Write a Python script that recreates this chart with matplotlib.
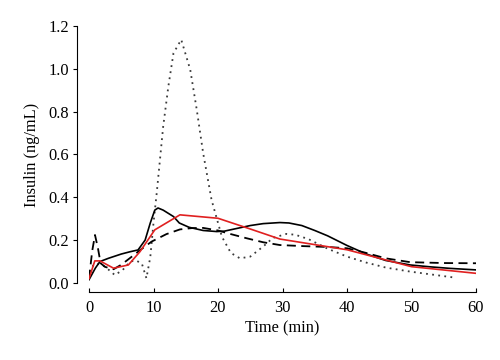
import matplotlib
matplotlib.use("Agg")
import matplotlib.pyplot as plt

# black solid
t_black = [0, 1, 1.7, 3, 3.8, 5, 6.4, 7.6, 8.7, 9.5, 10.2, 10.7, 11.5, 13.1, 14, 15.5,
           17.7, 19.8, 21, 23, 25, 27, 29.6, 31, 33, 35, 37, 40, 43, 46, 49.8, 53, 56, 60]
v_black = [0.015, 0.07, 0.10, 0.115, 0.123, 0.135, 0.146, 0.154, 0.20, 0.28, 0.34, 0.35,
           0.34, 0.31, 0.28, 0.26, 0.245, 0.24, 0.242, 0.255, 0.268, 0.277, 0.282, 0.28,
           0.268, 0.245, 0.22, 0.175, 0.135, 0.105, 0.084, 0.075, 0.068, 0.061]

# red solid
t_red = [0, 0.9, 1.7, 3.8, 6.1, 7.9, 10.2, 14.1, 20, 25, 29.6, 40, 50, 60]
v_red = [0.02, 0.103, 0.103, 0.069, 0.084, 0.146, 0.248, 0.318, 0.302, 0.252, 0.205,
         0.155, 0.076, 0.045]

# dashed
t_dash = [0, 0.5, 0.93, 1.4, 1.8, 2.5, 3.8, 5, 6.3, 8, 9.7, 12, 14.1, 15.9, 17.7, 20,
          22, 24.4, 27, 29.6, 33.2, 37, 40, 43, 46, 49.8, 55, 60]
v_dash = [0.02, 0.15, 0.224, 0.16, 0.092, 0.075, 0.064, 0.085, 0.115, 0.155, 0.193,
          0.228, 0.25, 0.256, 0.257, 0.245, 0.228, 0.209, 0.19, 0.177, 0.172, 0.168,
          0.162, 0.14, 0.115, 0.097, 0.093, 0.092]

# dotted
t_dot = [0, 0.6, 1.2, 2.5, 4, 5.2, 6.4, 7.3, 8.2, 8.9, 9.5, 10, 10.5, 11.5, 12.3, 13.1,
         14.3, 15.7, 16.7, 17.7, 19, 20.6, 22, 23.4, 25, 27, 28.5, 30.6, 32, 34, 37, 40,
         43, 46, 49.8, 53, 56.7]
v_dot = [0.022, 0.08, 0.092, 0.076, 0.037, 0.06, 0.10, 0.105, 0.09, 0.022, 0.12, 0.28,
         0.42, 0.73, 0.917, 1.073, 1.136, 0.995, 0.81, 0.606, 0.388, 0.216, 0.14, 0.115,
         0.123, 0.17, 0.21, 0.229, 0.225, 0.205, 0.16, 0.123, 0.095, 0.072, 0.053, 0.04,
         0.025]

x_ticks = [0, 10, 20, 30, 40, 50, 60]
y_ticks = [0.0, 0.2, 0.4, 0.6, 0.8, 1.0, 1.2]

plt.rcParams['font.family'] = ['Liberation Serif', 'DejaVu Serif']
plt.rcParams['font.size'] = 11.8

fig = plt.figure(figsize=(5, 3.6), dpi=100)
ax = fig.add_axes([0.178, 0.214, 0.774, 0.714])

ax.plot(t_dot, v_dot, color='#3a3a3a', lw=1.3, linestyle=(0, (1, 2.4)))
ax.plot(t_dash, v_dash, color='black', lw=1.3, linestyle=(0, (5, 3)))
ax.plot(t_black, v_black, color='black', lw=1.2)
ax.plot(t_red, v_red, color='#e02020', lw=1.2)

ax.set_xlim(0, 60)
ax.set_ylim(0, 1.2)
ax.set_xticks(x_ticks)
ax.set_yticks(y_ticks)
ax.set_yticklabels([f"{v:.1f}" for v in y_ticks])

ax.spines['top'].set_visible(False)
ax.spines['right'].set_visible(False)
ax.spines['left'].set_position(('outward', 8.6))
ax.spines['bottom'].set_position(('outward', 6.5))
ax.tick_params(axis='x', direction='in', length=3, pad=6)
ax.tick_params(axis='y', direction='out', length=3, pad=3)

ax.set_xlabel('Time (min)', labelpad=3)
ax.set_ylabel('Insulin (ng/mL)', labelpad=6)

fig.savefig('out.png', dpi=100)
